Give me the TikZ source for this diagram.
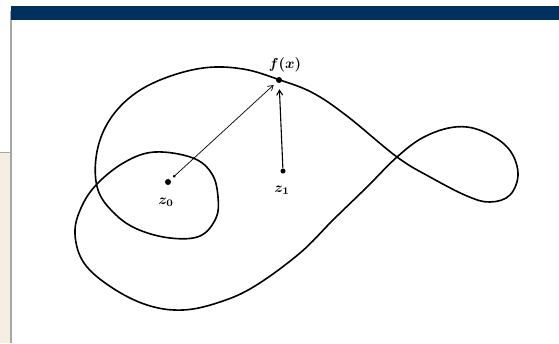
\documentclass[tikz,border=0pt]{standalone}
\usetikzlibrary{arrows.meta}
\definecolor{barblue}{HTML}{00305E}
\definecolor{panelbeige}{HTML}{F5EEE2}
\definecolor{edgegray}{HTML}{A6A6A6}
\tikzset{
  curve/.style={line width=1.6pt, line join=round},
  dotnode/.style={circle, fill=black, inner sep=0pt, minimum size=#1},
  lbl/.style={inner sep=0pt, scale=1.45, font=\boldmath},
  thinarrow/.style={line width=0.7pt, {Circle[length=2.6pt]}-{Straight Barb[length=5pt,width=6pt]}},
  thickarrow/.style={line width=1.1pt, -{Straight Barb[length=5pt,width=6pt]}},
}
\begin{document}
\begin{tikzpicture}[x=1pt,y=-1pt]
\useasboundingbox (0,0) rectangle (559,343);
% frame
\fill[panelbeige] (0,153) rectangle (10,343);
\draw[edgegray, line width=1.2pt] (0,152.5) -- (10,152.5);
\draw[edgegray, line width=2pt] (11,11) -- (11,343);
\fill[barblue] (11,6) rectangle (559,19.5);
% curve
\draw[curve] plot[smooth cycle, tension=0.62] coordinates {
 (280,80) (313,93) (347,116) (397,157) (430,177) (467,196) (490,202)
 (510,195) (518,173) (508,148) (482,131) (455,127) (424,137) (397,157) (367,187)
 (333,220) (300,253) (255,286) (220,302) (183,310) (147,305) (111,287) (84,263)
 (75,234) (81,208) (97,184) (125,162) (155,152) (193,158) (212,174) (218,197)
 (216,218) (200,236) (170,238) (137,229) (114,213) (98,190) (96,158)
 (106,126) (128,99) (160,80) (203,68) (243,69)};
% points
\node[dotnode=6pt] (fx) at (279,80) {};
\node[dotnode=6pt] (z0) at (168,182) {};
\node[dotnode=5pt] (z1) at (283,171) {};
% labels
\node[lbl] (fxl) at (285,65) {$f(x)$};
\node[lbl] (z0l) at (166,202) {$z_0$};
\node[lbl] (z1l) at (282,190) {$z_1$};
% arrows
\draw[thinarrow, shorten <=4pt, shorten >=4pt] (z0) -- (fx);
\draw[thickarrow, shorten <=0pt, shorten >=6pt] (z1) -- (fx);
\end{tikzpicture}
\end{document}
